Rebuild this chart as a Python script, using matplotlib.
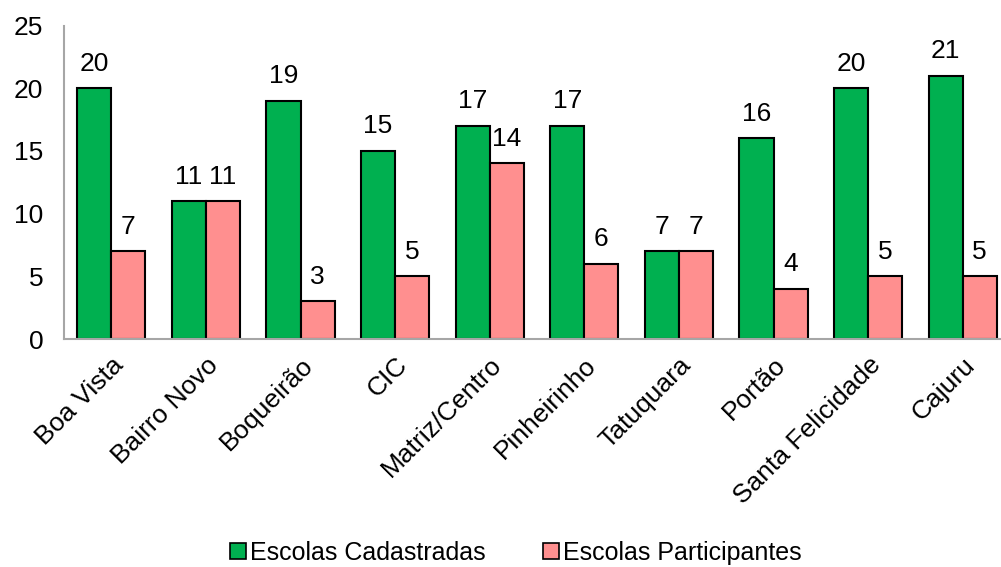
import numpy as np
import matplotlib.pyplot as plt
from matplotlib.patches import Patch

plt.rcParams['font.family'] = ['Liberation Sans', 'DejaVu Sans']

regions = ["Boa Vista", "Bairro Novo", "Boqueirão", "CIC", "Matriz/Centro",
           "Pinheirinho", "Tatuquara", "Portão", "Santa Felicidade", "Cajuru"]
cadastradas = [20, 11, 19, 15, 17, 17, 7, 16, 20, 21]
participantes = [7, 11, 3, 5, 14, 6, 7, 4, 5, 5]

green = '#00B050'
pink = '#FF8F8F'

fig = plt.figure(figsize=(10.01, 5.67), dpi=100)
ax = fig.add_axes([0.064, 0.402, 0.945, 0.553])

x = np.arange(len(regions))
w = 0.36
b1 = ax.bar(x - w / 2, cadastradas, w, color=green, edgecolor='black', linewidth=1.5)
b2 = ax.bar(x + w / 2, participantes, w, color=pink, edgecolor='black', linewidth=1.5)

# value labels above bars
for bars in (b1, b2):
    for r in bars:
        ax.annotate(str(int(r.get_height())), (r.get_x() + r.get_width() / 2, r.get_height()),
                    xytext=(0, 9), textcoords='offset points', ha='center', va='bottom', fontsize=19)

ax.set_xlim(-0.5, len(regions) - 0.5)
ax.set_ylim(0, 25)
ax.set_yticks(range(0, 26, 5))
ax.set_xticks(x)
ax.set_xticklabels(regions, rotation=45, ha='right', rotation_mode='anchor', fontsize=19)
ax.tick_params(axis='both', length=0, labelsize=19)
ax.tick_params(axis='y', pad=15)
ax.tick_params(axis='x', pad=10)

for s in ('top', 'right'):
    ax.spines[s].set_visible(False)
for s in ('left', 'bottom'):
    ax.spines[s].set_color('#A6A6A6')
    ax.spines[s].set_linewidth(1.5)

handles = [Patch(facecolor=green, edgecolor='black', linewidth=1.2),
           Patch(facecolor=pink, edgecolor='black', linewidth=1.2)]
fig.legend(handles, ["Escolas Cadastradas", "Escolas Participantes"], loc='center',
           bbox_to_anchor=(0.515, 0.025), ncol=2, frameon=False, fontsize=18,
           handlelength=0.65, handleheight=0.65, handletextpad=0.15, columnspacing=2.3)

plt.savefig('out.png', dpi=100)
